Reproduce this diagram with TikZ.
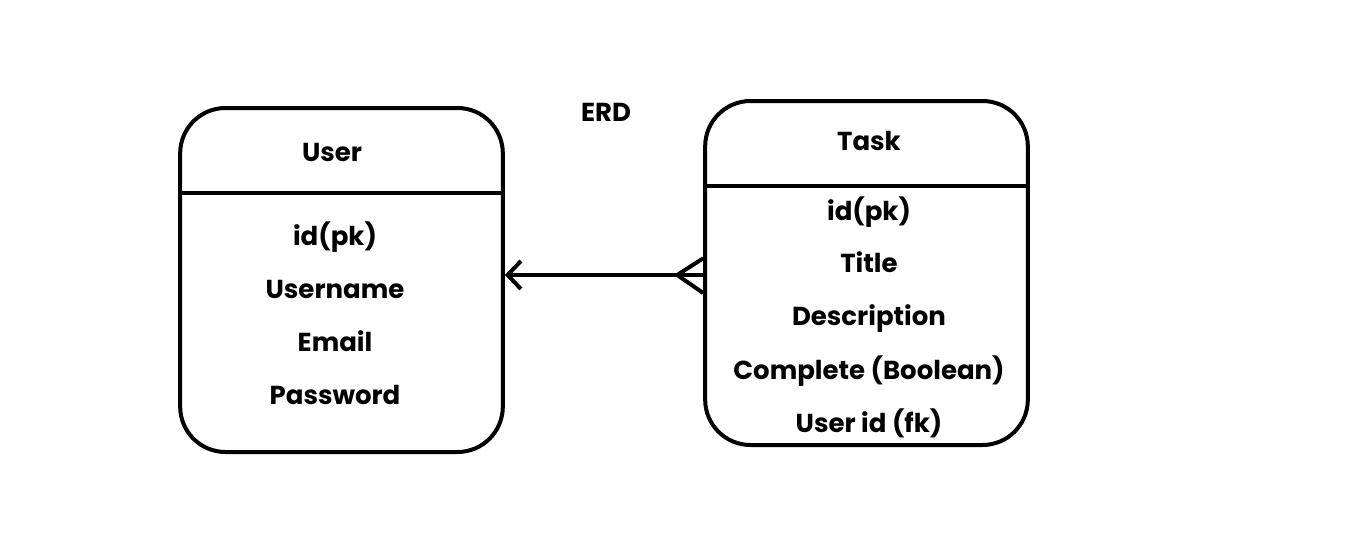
\documentclass[tikz,border=0pt]{standalone}
\usepackage{fontspec}
\setmainfont{Poppins}
\usepackage{tikz}
\usetikzlibrary{arrows.meta}

\tikzset{
  entity/.style={draw, line width=3pt, rounded corners=34pt, minimum width=242pt, minimum height=258pt},
  field/.style={anchor=base, font=\fontsize{19.5}{22}\selectfont\bfseries},
  rel/.style={line width=3pt}
}

\begin{document}
\begin{tikzpicture}[x=0.75pt, y=-0.75pt]
\useasboundingbox (0,0) rectangle (1346,554);
\node (title) at (606,121) [field] {ERD};
% user table
\node[entity] (user) at (341.5,280) {};
\draw[rel] ([yshift=-65pt]user.north west) -- ([yshift=-65pt]user.north east);
\node[field] (uname) at (332,161) {User};
\node[field] (uid) at (335,245) {id(pk)};
\node[field] (uuser) at (335,298) {Username};
\node[field] (umail) at (335,351) {Email};
\node[field] (upass) at (335,404) {Password};
% task table
\node[entity] (task) at (866.5,273) {};
\draw[rel] ([yshift=-65pt]task.north west) -- ([yshift=-65pt]task.north east);
\node[field] (tname) at (869,150) {Task};
\node[field] (tid) at (869,220) {id(pk)};
\node[field] (ttitle) at (869,272) {Title};
\node[field] (tdesc) at (869,325) {Description};
\node[field] (tdone) at (869,379) {Complete (Boolean)};
\node[field] (tuser) at (869,432) {User id (fk)};
% relation
\draw[rel, -{Straight Barb[length=10pt, width=21pt]}] ([yshift=-1.5pt]task.west) -- ([yshift=-1.5pt]task.west -| user.east);
\draw[rel] ([xshift=-19.5pt, yshift=-1.5pt]task.west) -- ([yshift=11pt]task.west);
\draw[rel] ([xshift=-19.5pt, yshift=-1.5pt]task.west) -- ([yshift=-15pt]task.west);
\end{tikzpicture}
\end{document}
